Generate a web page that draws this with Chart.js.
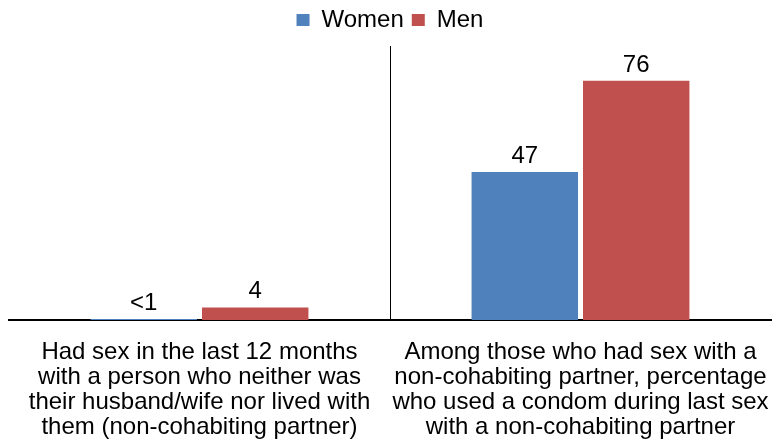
<!DOCTYPE html>
<html>
<head>
<meta charset="utf-8">
<script src="https://cdn.jsdelivr.net/npm/chart.js@4"></script>
<style>
  html, body { margin: 0; padding: 0; background: #fff; }
  #wrap { width: 777px; height: 444px; }
</style>
</head>
<body>
<div id="wrap"><canvas id="myChart"></canvas></div>
<script>
// chart data
var categories = [
    ['Had sex in the last 12 months', 'with a person who neither was', 'their husband/wife nor lived with', 'them (non-cohabiting partner)'],
    ['Among those who had sex with a', 'non-cohabiting partner, percentage', 'who used a condom during last sex', 'with a non-cohabiting partner']
];
var womenValues = [0.3, 47];
var menValues = [4, 76];
var womenLabels = ['<1', '47'];
var menLabels = ['4', '76'];

var FONT = '"Liberation Sans", Arial, sans-serif';

// numbers above the bars + category text under the axis
var valueLabels = {
    id: 'valueLabels',
    beforeUpdate: function(chart) {
        // a bit more room under the legend
        if (chart.legend && !chart.legend._patched) {
            var fit = chart.legend.fit;
            chart.legend.fit = function() {
                fit.call(this);
                this.height += 4;
            };
            chart.legend._patched = true;
        }
    },
    afterDatasetsDraw: function(chart) {
        var ctx = chart.ctx;
        var texts = [womenLabels, menLabels];
        var xScale = chart.scales.x;
        ctx.save();
        ctx.font = '24px ' + FONT;
        ctx.fillStyle = '#000000';
        ctx.textAlign = 'center';
        ctx.textBaseline = 'alphabetic';
        chart.data.datasets.forEach(function(ds, i) {
            chart.getDatasetMeta(i).data.forEach(function(bar, j) {
                ctx.fillText(texts[i][j], bar.x, bar.y - 9);
            });
        });
        ctx.textBaseline = 'middle';
        chart.data.labels.forEach(function(lines, j) {
            var cx = xScale.getPixelForValue(j);
            lines.forEach(function(line, k) {
                ctx.fillText(line, cx, chart.chartArea.bottom + 32 + k * 25);
            });
        });
        ctx.restore();
    }
};

var ctx = document.getElementById('myChart').getContext('2d');
var myChart = new Chart(ctx, {
    type: 'bar',
    data: {
        labels: categories,
        datasets: [{
            label: 'Women',
            data: womenValues,
            backgroundColor: '#4F81BD'
        }, {
            label: 'Men',
            data: menValues,
            backgroundColor: '#C0504D'
        }]
    },
    options: {
        responsive: true,
        maintainAspectRatio: false,
        animation: false,
        layout: { padding: { left: 9, right: 6, top: 0, bottom: 124 } },
        categoryPercentage: 0.585,
        barPercentage: 0.955,
        plugins: {
            legend: {
                labels: {
                    color: '#000000',
                    boxWidth: 13,
                    boxHeight: 12,
                    padding: 8,
                    font: { size: 24, family: FONT }
                }
            },
            tooltip: { enabled: false }
        },
        scales: {
            y: {
                display: false,
                min: 0,
                max: 87
            },
            x: {
                grid: {
                    offset: true,
                    drawTicks: false,
                    color: function(c) {
                        return c.index === 1 ? '#000000' : 'rgba(0,0,0,0)';
                    },
                    lineWidth: 1
                },
                border: { color: '#000000', width: 2 },
                ticks: { display: false }
            }
        }
    },
    plugins: [valueLabels]
});
</script>
</body>
</html>
